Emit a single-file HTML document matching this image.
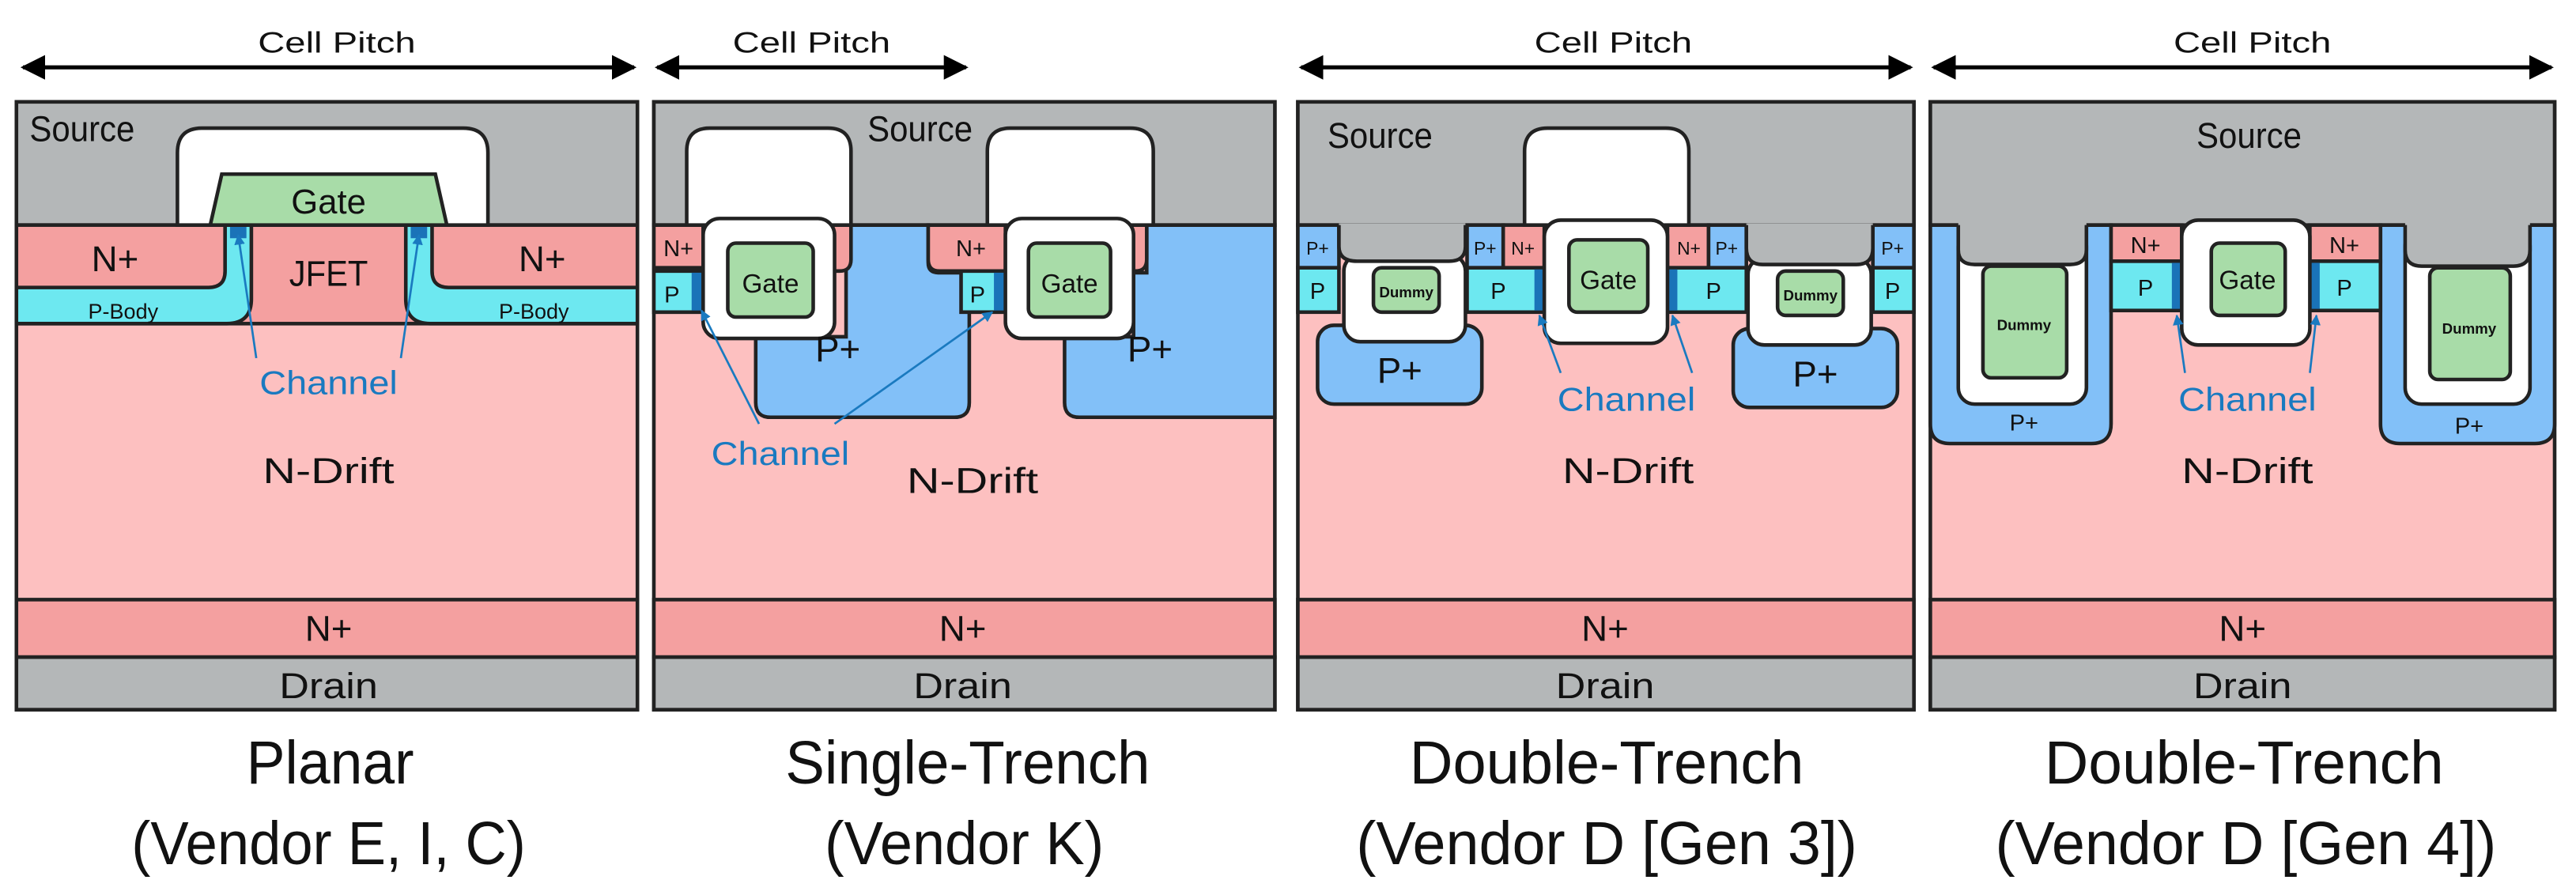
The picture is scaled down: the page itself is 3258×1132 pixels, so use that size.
<!DOCTYPE html>
<html><head><meta charset="utf-8"><style>
html,body{margin:0;padding:0;background:#fff;}
svg{display:block;}
text{font-family:"Liberation Sans",sans-serif;}
</style></head><body>
<svg width="3258" height="1132" viewBox="0 0 1568 544.8" xmlns="http://www.w3.org/2000/svg">
<defs>
<marker id="ah" viewBox="0 0 10 10" refX="9" refY="5" markerWidth="6" markerHeight="6" orient="auto-start-reverse"><path d="M0,0L10,5L0,10z" fill="#000"/></marker>
<marker id="bh" viewBox="0 0 10 10" refX="9" refY="5" markerWidth="5" markerHeight="5" orient="auto"><path d="M0,0L10,5L0,10z" fill="#1a7ac0"/></marker>
</defs>
<g stroke="#000" stroke-width="2.5" marker-start="url(#ah)" marker-end="url(#ah)">
<line x1="14" y1="41" x2="386" y2="41"/>
<line x1="400" y1="41" x2="588" y2="41"/>
<line x1="792" y1="41" x2="1163" y2="41"/>
<line x1="1177" y1="41" x2="1553" y2="41"/>
</g>
<g font-size="18" text-anchor="middle" fill="#111">
<text x="205" y="32" textLength="96" lengthAdjust="spacingAndGlyphs">Cell Pitch</text>
<text x="494" y="32" textLength="96" lengthAdjust="spacingAndGlyphs">Cell Pitch</text>
<text x="982" y="32" textLength="96" lengthAdjust="spacingAndGlyphs">Cell Pitch</text>
<text x="1371" y="32" textLength="96" lengthAdjust="spacingAndGlyphs">Cell Pitch</text>
</g>

<g stroke="#222" stroke-width="2.2">
<rect x="10" y="62" width="378" height="370" fill="#fdc0c0"/>
<rect x="10" y="62" width="378" height="75" fill="#b4b7b8"/>
<rect x="10" y="365" width="378" height="35" fill="#f4a0a0"/>
<rect x="10" y="400" width="378" height="32" fill="#b4b7b8"/>
<rect x="398" y="62" width="378" height="370" fill="#fdc0c0"/>
<rect x="398" y="62" width="378" height="75" fill="#b4b7b8"/>
<rect x="398" y="365" width="378" height="35" fill="#f4a0a0"/>
<rect x="398" y="400" width="378" height="32" fill="#b4b7b8"/>
<rect x="790" y="62" width="375" height="370" fill="#fdc0c0"/>
<rect x="790" y="62" width="375" height="75" fill="#b4b7b8"/>
<rect x="790" y="365" width="375" height="35" fill="#f4a0a0"/>
<rect x="790" y="400" width="375" height="32" fill="#b4b7b8"/>
<rect x="1175" y="62" width="380" height="370" fill="#fdc0c0"/>
<rect x="1175" y="62" width="380" height="75" fill="#b4b7b8"/>
<rect x="1175" y="365" width="380" height="35" fill="#f4a0a0"/>
<rect x="1175" y="400" width="380" height="32" fill="#b4b7b8"/>

<!-- Panel 1 -->
<rect x="10" y="137" width="378" height="60" fill="#f4a0a0"/>
<path d="M10,175 L127,175 Q137,175 137,165 L137,137 L153,137 L153,182 Q153,197 138,197 L10,197 Z" fill="#6de8f0"/>
<path d="M388,175 L273,175 Q263,175 263,165 L263,137 L247,137 L247,182 Q247,197 262,197 L388,197 Z" fill="#6de8f0"/>
<rect x="140" y="137" width="10" height="8" fill="#1a73b8" stroke="none"/>
<rect x="250" y="137" width="10" height="8" fill="#1a73b8" stroke="none"/>
<path d="M108,137 L108,93 Q108,78 123,78 L282,78 Q297,78 297,93 L297,137 Z" fill="#fff"/>
<path d="M128,137 L135,106 L265,106 L272,137 Z" fill="#a8dca8"/>

<!-- Panel 2 -->
<path d="M515,137 L565,137 L565,160 Q565,166 571,166 L590,166 L590,245 Q590,254 581,254 L469,254 Q460,254 460,245 L460,205 L515,205 Z" fill="#82c0f8"/>
<path d="M698,137 L776,137 L776,254 L657,254 Q648,254 648,245 L648,205 L690,205 L690,166 L698,166 Z" fill="#82c0f8"/>
<path d="M398,137 L428,137 L428,163 L398,163 Z" fill="#f4a0a0"/>
<path d="M398,165 L428,165 L428,190 L398,190 Z" fill="#6de8f0"/>
<rect x="421" y="166" width="7" height="23" fill="#1a73b8" stroke="none"/>
<path d="M505,137 L518,137 L518,158 Q518,165 511,165 L505,165 Z" fill="#f4a0a0"/>
<path d="M565,137 L612,137 L612,165 L572,165 Q565,165 565,158 Z" fill="#f4a0a0"/>
<path d="M585,165 L612,165 L612,190 L585,190 Z" fill="#6de8f0"/>
<rect x="605" y="166" width="7" height="23" fill="#1a73b8" stroke="none"/>
<path d="M685,137 L698,137 L698,158 Q698,165 691,165 L685,165 Z" fill="#f4a0a0"/>
<path d="M418,137 L418,92 Q418,78 432,78 L504,78 Q518,78 518,92 L518,137 Z" fill="#fff"/>
<path d="M601,137 L601,92 Q601,78 615,78 L688,78 Q702,78 702,92 L702,137 Z" fill="#fff"/>
<rect x="428" y="133" width="80" height="73" rx="10" fill="#fff"/>
<rect x="443" y="148" width="52" height="45" rx="5" fill="#a8dca8"/>
<rect x="612" y="133" width="78" height="73" rx="10" fill="#fff"/>
<rect x="626" y="148" width="50" height="45" rx="5" fill="#a8dca8"/>

<!-- Panel 3 -->
<rect x="802" y="198" width="100" height="48" rx="10" fill="#82c0f8"/>
<rect x="1055" y="200" width="100" height="48" rx="10" fill="#82c0f8"/>
<rect x="790" y="137" width="25" height="26" fill="#82c0f8"/>
<rect x="790" y="163" width="25" height="27" fill="#6de8f0"/>
<rect x="893" y="137" width="22" height="26" fill="#82c0f8"/>
<rect x="915" y="137" width="25" height="26" fill="#f4a0a0"/>
<rect x="893" y="163" width="47" height="27" fill="#6de8f0"/>
<rect x="934" y="164" width="6" height="25" fill="#1a73b8" stroke="none"/>
<rect x="1015" y="137" width="25" height="26" fill="#f4a0a0"/>
<rect x="1040" y="137" width="23" height="26" fill="#82c0f8"/>
<rect x="1015" y="163" width="48" height="27" fill="#6de8f0"/>
<rect x="1015" y="164" width="6" height="25" fill="#1a73b8" stroke="none"/>
<rect x="1140" y="137" width="25" height="26" fill="#82c0f8"/>
<rect x="1140" y="163" width="25" height="27" fill="#6de8f0"/>
<rect x="818" y="155" width="74" height="53" rx="10" fill="#fff"/>
<rect x="836" y="163" width="40" height="27" rx="5" fill="#a8dca8"/>
<rect x="1064" y="157" width="75" height="53" rx="10" fill="#fff"/>
<rect x="1082" y="165" width="40" height="27" rx="5" fill="#a8dca8"/>
<path d="M815,136 L815,150 Q815,159 826,159 L882,159 Q892,159 892,150 L892,136 Z" fill="#b4b7b8" stroke="none"/>
<path d="M1063,136 L1063,151 Q1063,161 1073,161 L1130,161 Q1140,161 1140,151 L1140,136 Z" fill="#b4b7b8" stroke="none"/>
<path d="M815,137 L815,150 Q815,159 826,159 L882,159 Q892,159 892,150 L892,137 M1063,137 L1063,151 Q1063,161 1073,161 L1130,161 Q1140,161 1140,151 L1140,137" fill="none"/>
<path d="M928,137 L928,92 Q928,78 942,78 L1014,78 Q1028,78 1028,92 L1028,137 Z" fill="#fff"/>
<rect x="940" y="134" width="75" height="75" rx="10" fill="#fff"/>
<rect x="955" y="146" width="48" height="44" rx="5" fill="#a8dca8"/>

<!-- Panel 4 -->
<path d="M1175,137 L1285,137 L1285,258 Q1285,270 1273,270 L1187,270 Q1175,270 1175,258 Z" fill="#82c0f8"/>
<path d="M1449,137 L1555,137 L1555,258 Q1555,270 1543,270 L1461,270 Q1449,270 1449,258 Z" fill="#82c0f8"/>
<rect x="1192" y="140" width="78" height="106" rx="10" fill="#fff"/>
<rect x="1207" y="162" width="51" height="68" rx="5" fill="#a8dca8"/>
<rect x="1464" y="140" width="76" height="106" rx="10" fill="#fff"/>
<rect x="1479" y="163" width="49" height="68" rx="5" fill="#a8dca8"/>
<path d="M1192,135 L1192,152 Q1192,161 1202,161 L1260,161 Q1270,161 1270,152 L1270,135 Z" fill="#b4b7b8" stroke="none"/>
<path d="M1464,135 L1464,152 Q1464,162 1474,162 L1530,162 Q1540,162 1540,152 L1540,135 Z" fill="#b4b7b8" stroke="none"/>
<path d="M1192,137 L1192,152 Q1192,161 1202,161 L1260,161 Q1270,161 1270,152 L1270,137 M1464,137 L1464,152 Q1464,162 1474,162 L1530,162 Q1540,162 1540,152 L1540,137" fill="none"/>
<rect x="1285" y="137" width="43" height="22" fill="#f4a0a0"/>
<rect x="1285" y="159" width="43" height="30" fill="#6de8f0"/>
<rect x="1322" y="160" width="6" height="28" fill="#1a73b8" stroke="none"/>
<rect x="1406" y="137" width="43" height="22" fill="#f4a0a0"/>
<rect x="1406" y="159" width="43" height="30" fill="#6de8f0"/>
<rect x="1406" y="160" width="6" height="28" fill="#1a73b8" stroke="none"/>
<rect x="1328" y="134" width="78" height="76" rx="10" fill="#fff"/>
<rect x="1346" y="148" width="45" height="44" rx="5" fill="#a8dca8"/>
</g>

<g stroke="#1a7ac0" stroke-width="1.3" fill="none" marker-end="url(#bh)">
<line x1="156" y1="218" x2="145" y2="143"/>
<line x1="244" y1="218" x2="255" y2="143"/>
<line x1="462" y1="258" x2="427" y2="189"/>
<line x1="508" y1="258" x2="604" y2="190"/>
<line x1="950" y1="227" x2="937" y2="192"/>
<line x1="1030" y1="227" x2="1018" y2="192"/>
<line x1="1330" y1="227" x2="1325" y2="192"/>
<line x1="1406" y1="227" x2="1410" y2="192"/>
</g>

<g fill="#111" text-anchor="middle" font-size="22">
<text x="50" y="86" textLength="64" lengthAdjust="spacingAndGlyphs">Source</text>
<text x="560" y="86" textLength="64" lengthAdjust="spacingAndGlyphs">Source</text>
<text x="840" y="90" textLength="64" lengthAdjust="spacingAndGlyphs">Source</text>
<text x="1369" y="90" textLength="64" lengthAdjust="spacingAndGlyphs">Source</text>
<text x="200" y="130" font-size="21">Gate</text>
<text x="70" y="165">N+</text>
<text x="330" y="165">N+</text>
<text x="200" y="174" textLength="48" lengthAdjust="spacingAndGlyphs">JFET</text>
<text x="75" y="194" font-size="13">P-Body</text>
<text x="325" y="194" font-size="13">P-Body</text>
<text x="200" y="294" textLength="80" lengthAdjust="spacingAndGlyphs">N-Drift</text>
<text x="592" y="300" textLength="80" lengthAdjust="spacingAndGlyphs">N-Drift</text>
<text x="991" y="294" textLength="80" lengthAdjust="spacingAndGlyphs">N-Drift</text>
<text x="1368" y="294" textLength="80" lengthAdjust="spacingAndGlyphs">N-Drift</text>
<text x="200" y="390">N+</text><text x="586" y="390">N+</text><text x="977" y="390">N+</text><text x="1365" y="390">N+</text>
<text x="200" y="425" textLength="60" lengthAdjust="spacingAndGlyphs">Drain</text>
<text x="586" y="425" textLength="60" lengthAdjust="spacingAndGlyphs">Drain</text>
<text x="977" y="425" textLength="60" lengthAdjust="spacingAndGlyphs">Drain</text>
<text x="1365" y="425" textLength="60" lengthAdjust="spacingAndGlyphs">Drain</text>
<text x="510" y="220">P+</text><text x="700" y="220">P+</text>
<text x="852" y="233">P+</text><text x="1105" y="235">P+</text>
<g font-size="14"><text x="413" y="156">N+</text><text x="591" y="156">N+</text>
<text x="409" y="184">P</text><text x="595" y="184">P</text>
<text x="802" y="155" font-size="11">P+</text><text x="904" y="155" font-size="11">P+</text><text x="927" y="155" font-size="11">N+</text>
<text x="1028" y="155" font-size="11">N+</text><text x="1051" y="155" font-size="11">P+</text><text x="1152" y="155" font-size="11">P+</text>
<text x="802" y="182">P</text><text x="912" y="182">P</text><text x="1043" y="182">P</text><text x="1152" y="182">P</text>
<text x="1306" y="154">N+</text><text x="1427" y="154">N+</text>
<text x="1306" y="180">P</text><text x="1427" y="180">P</text>
<text x="1232" y="262">P+</text><text x="1503" y="264">P+</text></g>
<g font-size="16"><text x="469" y="178">Gate</text><text x="651" y="178">Gate</text><text x="979" y="176">Gate</text><text x="1368" y="176">Gate</text></g>
<g font-size="9" font-weight="bold"><text x="856" y="181">Dummy</text><text x="1102" y="183">Dummy</text><text x="1232" y="201">Dummy</text><text x="1503" y="203">Dummy</text></g>
</g>
<g fill="#1a7ac0" text-anchor="middle" font-size="20">
<text x="200" y="240" textLength="84" lengthAdjust="spacingAndGlyphs">Channel</text>
<text x="475" y="283" textLength="84" lengthAdjust="spacingAndGlyphs">Channel</text>
<text x="990" y="250" textLength="84" lengthAdjust="spacingAndGlyphs">Channel</text>
<text x="1368" y="250" textLength="84" lengthAdjust="spacingAndGlyphs">Channel</text>
</g>
<g fill="#111" text-anchor="middle" font-size="37">
<text x="201" y="477" textLength="102" lengthAdjust="spacingAndGlyphs">Planar</text>
<text x="589" y="477" textLength="222" lengthAdjust="spacingAndGlyphs">Single-Trench</text>
<text x="978" y="477" textLength="240" lengthAdjust="spacingAndGlyphs">Double-Trench</text>
<text x="1366" y="477" textLength="243" lengthAdjust="spacingAndGlyphs">Double-Trench</text>
<text x="200" y="526" textLength="240" lengthAdjust="spacingAndGlyphs">(Vendor E, I, C)</text>
<text x="587" y="526" textLength="170" lengthAdjust="spacingAndGlyphs">(Vendor K)</text>
<text x="978" y="526" textLength="305" lengthAdjust="spacingAndGlyphs">(Vendor D [Gen 3])</text>
<text x="1367" y="526" textLength="305" lengthAdjust="spacingAndGlyphs">(Vendor D [Gen 4])</text>
</g>
</svg>
</body></html>
